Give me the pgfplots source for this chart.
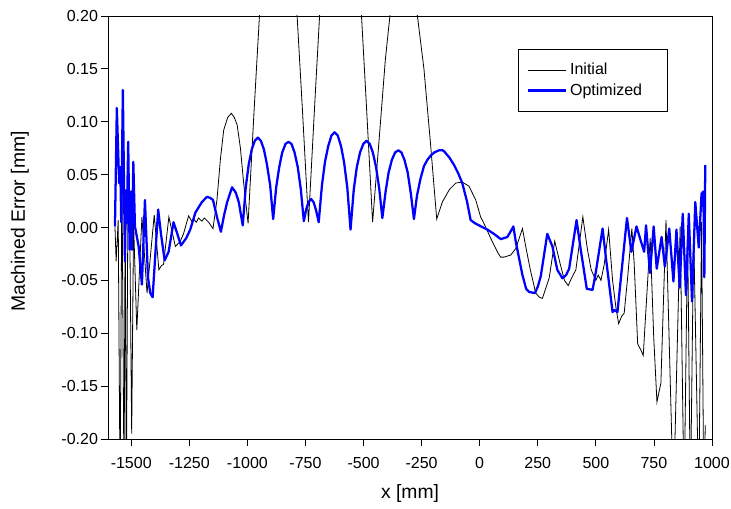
\documentclass[border=0pt]{standalone}
\usepackage{fontspec}
\setmainfont{Liberation Sans}
\usepackage{pgfplots}
\pgfplotsset{compat=1.18}
\pgfplotstableread{
x y
-1570 0.001
-1565 -0.032
-1556 0.007
-1548 -0.25
-1540 0.055
-1531 -0.25
-1526 0.020
-1521 -0.25
-1513 0.073
-1507 0.017
-1498 -0.195
-1490 0.005
-1476 -0.097
-1454 0.010
-1432 -0.062
-1401 0.012
-1381 -0.040
-1370 -0.036
-1361 -0.035
-1338 0.010
-1310 -0.018
-1289 -0.013
-1275 -0.006
-1253 0.011
-1240 0.006
-1231 0.008
-1220 0.005
-1210 0.009
-1196 0.006
-1185 0.009
-1167 0.005
-1148 -0.001
-1131 0.026
-1116 0.065
-1102 0.092
-1085 0.104
-1069 0.108
-1056 0.104
-1044 0.097
-1030 0.075
-1016 0.042
-997 0.004
-971 0.111
-945 0.212
-919 0.291
-893 0.342
-867 0.360
-841 0.342
-815 0.291
-789 0.212
-763 0.111
-737 0.005
-709 0.121
-682 0.229
-654 0.316
-627 0.371
-599 0.390
-571 0.371
-544 0.316
-516 0.229
-489 0.121
-461 0.005
-433 0.083
-406 0.159
-378 0.218
-351 0.257
-323 0.265
-295 0.245
-268 0.200
-240 0.150
-212 0.080
-185 0.008
-161 0.024
-130 0.036
-103 0.042
-75 0.043
-46 0.039
-17 0.026
4 0.010
18 0.004
47 -0.010
76 -0.023
90 -0.028
105 -0.028
120 -0.027
134 -0.026
155 -0.020
184 -0.001
200 -0.020
217 -0.039
241 -0.062
257 -0.066
270 -0.067
299 -0.048
323 -0.013
346 -0.034
365 -0.050
381 -0.055
395 -0.048
414 -0.040
444 0.010
464 -0.021
480 -0.040
500 -0.050
510 -0.045
522 -0.050
536 -0.035
555 -0.002
572 -0.050
586 -0.075
598 -0.091
611 -0.084
622 -0.081
637 -0.047
655 -0.001
665 -0.034
680 -0.110
694 -0.116
704 -0.121
718 -0.069
734 -0.010
749 -0.103
763 -0.165
780 -0.147
802 0.007
834 -0.260
863 0.001
880 -0.260
895 -0.002
907 -0.260
921 -0.004
943 -0.260
955 0.005
965 -0.260
971 -0.187
}\initialdata
\pgfplotstableread{
x y
-1570 0.001
-1562 0.113
-1552 0.042
-1547 0.057
-1543 0.005
-1536 0.130
-1527 -0.032
-1523 0.035
-1519 0.004
-1513 0.081
-1507 -0.021
-1501 0.034
-1497 -0.021
-1491 0.062
-1484 0.001
-1468 -0.018
-1454 -0.054
-1441 0.026
-1428 -0.047
-1418 -0.062
-1408 -0.066
-1384 0.017
-1372 -0.006
-1356 -0.031
-1339 -0.023
-1318 0.005
-1303 -0.005
-1286 -0.017
-1263 -0.010
-1246 -0.002
-1224 0.014
-1196 0.024
-1174 0.029
-1160 0.028
-1148 0.026
-1131 0.010
-1114 -0.004
-1100 0.012
-1087 0.024
-1066 0.038
-1050 0.033
-1037 0.024
-1020 0.002
-1007 0.038
-994 0.060
-981 0.074
-968 0.082
-955 0.085
-942 0.082
-929 0.074
-916 0.060
-902 0.040
-889 0.008
-876 0.038
-863 0.057
-850 0.071
-836 0.079
-823 0.081
-810 0.079
-797 0.071
-783 0.057
-770 0.036
-757 0.006
-747 0.017
-737 0.024
-726 0.027
-715 0.024
-704 0.016
-693 0.005
-679 0.040
-666 0.062
-652 0.077
-638 0.087
-625 0.090
-611 0.087
-597 0.077
-584 0.062
-570 0.038
-556 -0.002
-542 0.036
-529 0.057
-515 0.071
-501 0.079
-487 0.082
-473 0.079
-460 0.071
-446 0.057
-432 0.036
-419 0.009
-405 0.034
-392 0.052
-378 0.064
-364 0.071
-350 0.073
-337 0.071
-324 0.064
-310 0.052
-297 0.033
-283 0.008
-270 0.030
-255 0.046
-240 0.058
-225 0.064
-211 0.068
-195 0.071
-175 0.073
-160 0.073
-153 0.072
-130 0.066
-110 0.059
-92 0.051
-75 0.042
-55 0.025
-39 0.007
-20 0.004
-3 0.002
33 -0.002
61 -0.006
91 -0.011
119 -0.009
130 -0.005
145 0.001
155 -0.013
184 -0.045
200 -0.058
213 -0.061
238 -0.062
250 -0.056
263 -0.046
291 -0.006
313 -0.018
334 -0.040
356 -0.048
372 -0.045
385 -0.039
417 0.007
435 -0.021
461 -0.058
486 -0.059
500 -0.042
529 -0.001
543 -0.028
572 -0.080
580 -0.078
593 -0.080
634 0.009
653 -0.023
675 0.001
694 -0.013
708 -0.023
716 0.002
733 -0.043
749 0.001
762 -0.039
783 -0.009
797 -0.037
816 -0.001
834 -0.051
847 -0.002
861 -0.057
874 0.013
888 -0.064
900 0.013
914 -0.070
928 0.024
943 -0.019
955 0.032
963 0.034
967 -0.047
971 0.059
}\optimizeddata
\begin{document}
\begin{tikzpicture}
\begin{axis}[
  at={(0pt,0pt)}, anchor=south west,
  scale only axis,
  width=453pt, height=317.25pt,
  xmin=-1600, xmax=1000,
  ymin=-0.2, ymax=0.2,
  xtick={-1500,-1250,-1000,-750,-500,-250,0,250,500,750,1000},
  ytick={-0.2,-0.15,-0.1,-0.05,0,0.05,0.1,0.15,0.2},
  tick align=outside,
  tick pos=left,
  major tick length=5pt,
  axis line style={black, line width=0.6pt},
  every tick/.style={black, line width=0.6pt},
  /pgf/number format/assume math mode=true,
  x tick label style={font=\fontsize{12}{14}\selectfont, /pgf/number format/1000 sep={}, yshift=-5.5pt},
  y tick label style={font=\fontsize{12}{14}\selectfont, xshift=1pt, /pgf/number format/fixed, /pgf/number format/fixed zerofill, /pgf/number format/precision=2},
  xlabel={x [mm]},
  ylabel={Machined Error [mm]},
  every axis x label/.style={at={(axis description cs:0.5,0)}, yshift=-41.25pt, anchor=center, font=\fontsize{14.5}{16}\selectfont},
  every axis y label/.style={at={(axis description cs:0,0.514)}, xshift=-66pt, rotate=90, anchor=center, font=\fontsize{14.5}{16}\selectfont},
  legend style={at={(axis description cs:0.679,0.922)}, anchor=north west, draw=black, line width=0.6pt, fill=white,
    font=\fontsize{12}{14}\selectfont, inner xsep=6pt, inner ysep=8.5pt, row sep=1pt,
    nodes={text width=65pt, align=left}},
  legend cell align=left,
  legend image code/.code={\draw[#1] (0pt,0pt) -- (29pt,0pt);},
]
\addplot[black, line width=0.6pt] table[x=x,y=y] {\initialdata};
\addlegendentry{Initial}
\addplot[color={rgb,255:red,0;green,0;blue,255}, line width=1.7pt, line join=round] table[x=x,y=y] {\optimizeddata};
\addlegendentry{Optimized}
\end{axis}
\pgfresetboundingbox
\path[use as bounding box] (-81pt,-52.5pt) rectangle (467.25pt,329.25pt);
\end{tikzpicture}
\end{document}
